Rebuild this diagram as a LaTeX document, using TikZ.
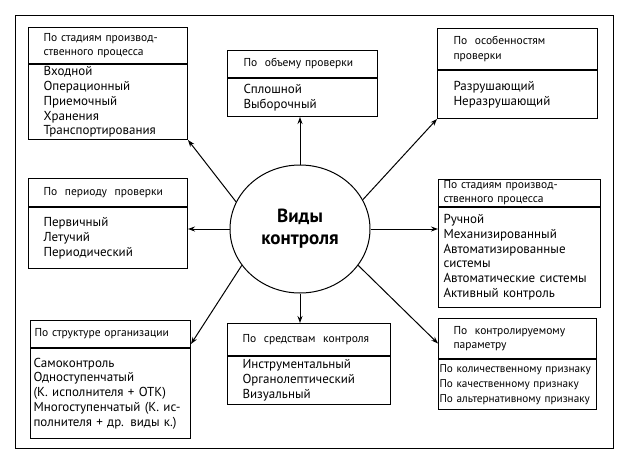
\documentclass[tikz,border=0pt]{standalone}
\usepackage{fontspec}
\setmainfont{PT Sans}
\usetikzlibrary{shapes.geometric,arrows.meta}

\begin{document}
\begin{tikzpicture}[x=1pt, y=-1pt]
        \tikzstyle{part}=[draw, line width=1pt, anchor=north west,
            align=left, inner xsep=0pt, inner ysep=1pt,
            font=\fontsize{11.5}{14.3}\selectfont]
        \tikzstyle{list}=[part, anchor=north, font=\fontsize{13}{14.8}\selectfont]
        \tikzstyle{link}=[line width=1pt, -{Stealth[length=7pt, width=5pt]}]

        \useasboundingbox (0, 0) rectangle (627, 461);
        \draw[line width=1pt] (15, 15) rectangle (613, 448);

        % top row
        \node[part, minimum width=159pt, minimum height=36pt, text width=129pt] (h1) at (28, 27)
            {По стадиям производ-\\ственного процесса};
        \node[list, minimum width=159pt, minimum height=75pt, text width=129pt] (b1) at (h1.south)
            {Входной\\Операционный\\Приемочный\\Хранения\\Транспортирования};

        \node[part, minimum width=150pt, minimum height=27pt, text width=118pt] (h2) at (227, 50)
            {По\ \ объему проверки};
        \node[list, minimum width=150pt, minimum height=38pt, text width=118pt] (b2) at (h2.south)
            {Сплошной\\Выборочный};

        \node[part, minimum width=160pt, minimum height=41pt, text width=128pt] (h3) at (437, 28)
            {По\ \ особенностям\\проверки};
        \node[list, minimum width=160pt, minimum height=48pt, text width=128pt] (b3) at (h3.south)
            {Разрушающий\\Неразрушающий};

        % middle row
        \node[part, minimum width=159pt, minimum height=28pt, text width=129pt] (h4) at (28, 178)
            {По\ \ периоду\ \ проверки};
        \node[list, minimum width=159pt, minimum height=61pt, text width=129pt] (b4) at (h4.south)
            {Первичный\\Летучий\\Периодический};

        \node[draw, ellipse, line width=1pt, minimum width=140pt, minimum height=128pt,
            inner sep=0pt, align=center, font=\fontsize{19}{22}\selectfont\bfseries] (c) at (300, 229)
            {Виды\\контроля};

        \node[part, minimum width=162pt, minimum height=24pt, text width=152pt] (h5) at (438, 179)
            {По стадиям производ-\\ственного процесса};
        \node[list, minimum width=162pt, minimum height=100pt, text width=152pt] (b5) at (h5.south)
            {Ручной\\Механизированный\\Автоматизированные\\системы\\Автоматические системы\\Активный контроль};

        % bottom row
        \node[part, minimum width=160pt, minimum height=27pt, text width=152pt] (h6) at (30, 320)
            {По структуре организации};
        \node[list, minimum width=160pt, minimum height=90pt, text width=154pt] (b6) at (h6.south)
            {Самоконтроль\\Одноступенчатый\\(К. исполнителя + ОТК)\\Многоступенчатый (К. ис-\\полнителя + др. виды к.)};

        \node[part, minimum width=163pt, minimum height=32pt, text width=133pt] (h7) at (227, 323)
            {По\ \ средствам\ \ контроля};
        \node[list, minimum width=163pt, minimum height=48pt, text width=133pt] (b7) at (h7.south)
            {Инструментальный\\Органолептический\\Визуальный};

        \node[part, minimum width=158pt, minimum height=40pt, text width=128pt] (h8) at (438, 318)
            {По\ \ контролируемому\\параметру};
        \node[list, minimum width=158pt, minimum height=50pt, text width=156pt,
            font=\fontsize{11.2}{14.8}\selectfont] (b8) at (h8.south)
            {По количественному признаку\\По качественному признаку\\По альтернативному признаку};

        \draw[link] (c.157) to (b1.south east);
        \draw[link] (c.north) to (c.north |- b2.south);
        \draw[link] (c.25) to (b3.south west);
        \draw[link] (c.west) to (c.west -| b4.east);
        \draw[link] (c.east) to (c.east -| b5.west);
        \draw[link] (c.212) to ([yshift=4pt]h6.south east);
        \draw[link] (c.south) to (c.south |- h7.north);
        \draw[link] (c.328) to ([yshift=-5pt]h8.west);
    \end{tikzpicture}
\end{document}
